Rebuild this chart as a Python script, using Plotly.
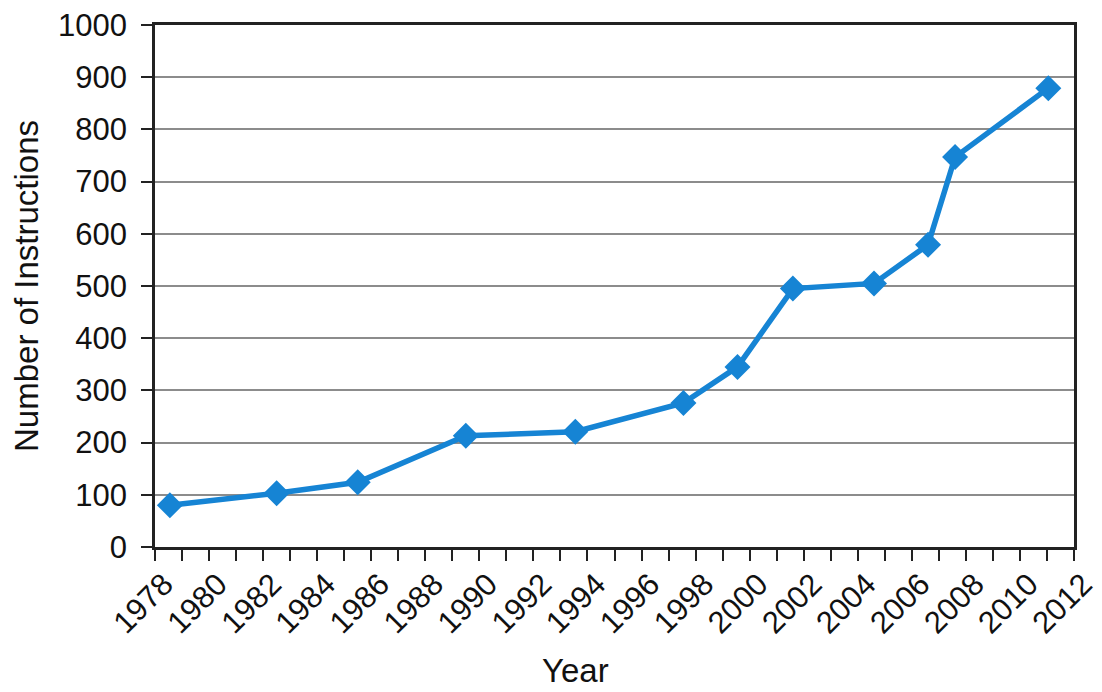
import plotly.graph_objects as go

# release dates (fractional year) and instruction counts
years = [1978.55, 1982.5, 1985.5, 1989.5, 1993.55, 1997.55, 1999.55, 2001.6, 2004.6, 2006.6, 2007.6, 2011.05]
instructions = [80, 103, 124, 213, 221, 276, 345, 495, 505, 579, 747, 879]

blue = "#1684d4"
font = "Liberation Sans, Arial, sans-serif"

fig = go.Figure(go.Scatter(
    x=years, y=instructions, mode="lines+markers",
    line=dict(color=blue, width=5.5),
    marker=dict(symbol="diamond", size=20, color=blue),
))

# page body adds 8px around the figure, margins account for it
fig.update_layout(
    width=1102, height=692,
    margin=dict(l=147, r=36, t=17, b=153),
    paper_bgcolor="white", plot_bgcolor="white",
    font=dict(family=font, size=31, color="#111"),
    showlegend=False,
    annotations=[
        dict(text="Year", xref="paper", yref="paper", x=0.458, y=-0.2375,
             xanchor="center", yanchor="middle", showarrow=False, font=dict(size=33)),
        dict(text="Number of Instructions", xref="paper", yref="paper", x=-0.1404, y=0.5,
             textangle=-90, xanchor="center", yanchor="middle", showarrow=False,
             font=dict(size=33)),
    ],
)
fig.update_xaxes(
    range=[1978, 2012], dtick=2, tick0=1978, tickangle=-45,
    ticks="outside", ticklen=11, tickwidth=2, tickcolor="#222",
    ticklabelstandoff=-7, ticklabelshift=9, ticklabeloverflow="allow",
    minor=dict(dtick=1, ticks="outside", ticklen=11, tickwidth=2, tickcolor="#222"),
    showline=True, linecolor="#222", linewidth=2.5, mirror=True,
    showgrid=False, zeroline=False, automargin=False,
)
fig.update_yaxes(
    range=[0, 1000], dtick=100,
    ticks="outside", ticklen=11, tickwidth=2, tickcolor="#222",
    ticklabelstandoff=8, ticklabeloverflow="allow",
    showline=True, linecolor="#222", linewidth=2.5, mirror=True,
    showgrid=True, gridcolor="#8c8c8c", gridwidth=2, zeroline=False, automargin=False,
)

fig.write_html("out.html")
